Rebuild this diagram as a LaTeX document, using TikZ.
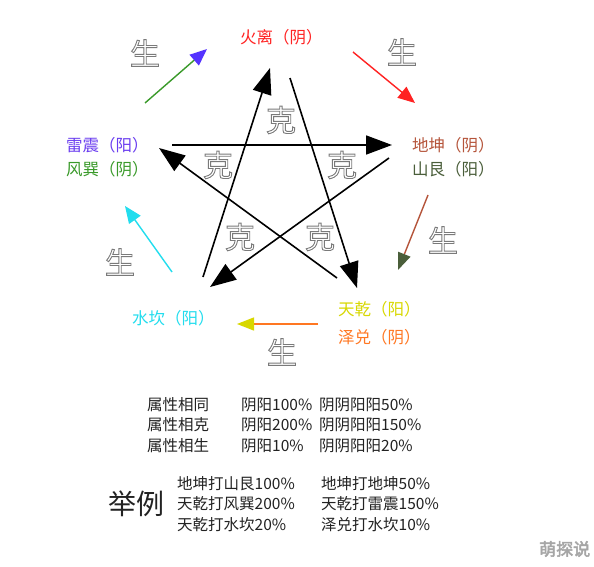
\documentclass[tikz,border=0pt]{standalone}
\usepackage{fontspec}
\setmainfont{Noto Sans CJK SC}
\newfontfamily\cjk{Noto Sans CJK SC}
\newfontfamily\cjkfat[FakeBold=3]{Noto Sans CJK SC}
\usetikzlibrary{arrows.meta}
\definecolor{cPurple}{HTML}{6A3DF0}
\definecolor{cPurpleHead}{HTML}{5533FF}
\definecolor{cGreen}{HTML}{3A9A2A}
\definecolor{cRed}{HTML}{FF2222}
\definecolor{cBrown}{HTML}{B5543A}
\definecolor{cOlive}{HTML}{4A5E3A}
\definecolor{cYellow}{HTML}{D8D800}
\definecolor{cOrange}{HTML}{FF7722}
\definecolor{cCyan}{HTML}{22DDEE}
\definecolor{cText}{HTML}{222222}
\definecolor{cHollow}{HTML}{7A7A7A}
\tikzset{
  lbl/.style={inner sep=0pt, anchor=west, font=\cjk\fontsize{16.5}{17}\selectfont},
  tbl/.style={inner sep=0pt, anchor=west, text=cText, font=\cjk\fontsize{15.5}{16}\selectfont},
  hol/.style={inner sep=0pt, text=cHollow, font=\cjk\fontsize{30}{31}\selectfont},
  ke/.style={line width=1.6pt, -{Triangle[length=26pt,width=19pt]}},
  sheng/.style={line width=1.4pt},
}
\newcommand\outlinedtext[1]{\special{pdf:literal direct q 1 Tr 0.9 w}#1\special{pdf:literal direct Q}}
\newcommand\hollowchar[3]{\node[hol] (#1) at (#2) {\outlinedtext{#3}};}
\begin{document}
\begin{tikzpicture}[x=1pt,y=-1pt]
\useasboundingbox[fill=white] (0,0) rectangle (594,567);

% labels
\node[lbl,text=cRed] (li) at (240,37) {火离（阴）};
\node[lbl,text=cPurple] (zhen) at (66,145) {雷震（阳）};
\node[lbl,text=cGreen] (xun) at (66,169) {风巽（阴）};
\node[lbl,text=cBrown] (kun) at (412,145) {地坤（阴）};
\node[lbl,text=cOlive] (gen) at (412,169) {山艮（阳）};
\node[lbl,text=cYellow] (qian) at (338,309) {天乾（阳）};
\node[lbl,text=cOrange] (dui) at (338,337) {泽兑（阴）};
\node[lbl,text=cCyan] (kan) at (132,318) {水坎（阳）};

% sheng chars
\hollowchar{s1}{145,53}{生}
\hollowchar{s2}{402,52}{生}
\hollowchar{s3}{443,240}{生}
\hollowchar{s4}{120,262}{生}
\hollowchar{s5}{282,352}{生}

% ke chars
\hollowchar{k1}{281,120}{克}
\hollowchar{k2}{218,165}{克}
\hollowchar{k3}{342,165}{克}
\hollowchar{k4}{240,237}{克}
\hollowchar{k5}{320,237}{克}

% star coordinates
\coordinate (a1) at (203,277); \coordinate (b1) at (270,68);
\coordinate (a2) at (290,78);  \coordinate (b2) at (357,288);
\coordinate (a3) at (172,145); \coordinate (b3) at (392,145);
\coordinate (a4) at (389,158); \coordinate (b4) at (210,287);
\coordinate (a5) at (337,278); \coordinate (b5) at (159,148);
\draw[ke] (a1) -- (b1);
\draw[ke] (a2) -- (b2);
\draw[ke] (a3) -- (b3);
\draw[ke] (a4) -- (b4);
\draw[ke] (a5) -- (b5);

% sheng arrows
\coordinate (g1) at (145,103); \coordinate (g2) at (207,49);
\coordinate (r1) at (353,52);  \coordinate (r2) at (415,103);
\coordinate (n1) at (428,195); \coordinate (n2) at (398,270);
\coordinate (o1) at (318,324); \coordinate (o2) at (237,324);
\coordinate (c1) at (172,272); \coordinate (c2) at (125,206);
\draw[sheng,cGreen,-{Triangle[length=17pt,width=14pt,color=cPurpleHead]}] (g1) -- (g2);
\draw[sheng,cRed,-{Triangle[length=17pt,width=14pt]}] (r1) -- (r2);
\draw[sheng,cBrown,-{Triangle[length=17pt,width=13pt,color=cOlive]}] (n1) -- (n2);
\draw[sheng,cOrange,-{Triangle[length=17pt,width=13pt,color=cYellow]}] (o1) -- (o2);
\draw[sheng,cCyan,-{Triangle[length=17pt,width=14pt]}] (c1) -- (c2);

% table
\node[tbl] (t11) at (147,405) {属性相同};
\node[tbl] (t12) at (241,405) {阴阳100\%};
\node[tbl] (t13) at (319,405) {阴阴阳阳50\%};
\node[tbl] (t21) at (147,425) {属性相克};
\node[tbl] (t22) at (241,425) {阴阳200\%};
\node[tbl] (t23) at (319,425) {阴阴阳阳150\%};
\node[tbl] (t31) at (147,446) {属性相生};
\node[tbl] (t32) at (241,446) {阴阳10\%};
\node[tbl] (t33) at (319,446) {阴阴阳阳20\%};

% examples
\node[inner sep=0pt, anchor=west, text=cText, font=\cjk\fontsize{28}{30}\selectfont] (jl) at (108,504) {举例};
\node[tbl] (e11) at (177,484) {地坤打山艮100\%};
\node[tbl] (e12) at (321,484) {地坤打地坤50\%};
\node[tbl] (e21) at (177,504) {天乾打风巽200\%};
\node[tbl] (e22) at (321,504) {天乾打雷震150\%};
\node[tbl] (e31) at (177,525) {天乾打水坎20\%};
\node[tbl] (e32) at (321,525) {泽兑打水坎10\%};

% watermark
\node[inner sep=0pt, anchor=west, text=gray!70, font=\cjkfat\fontsize{17}{18}\selectfont] (wm) at (539,549) {萌探说};
\end{tikzpicture}
\end{document}
